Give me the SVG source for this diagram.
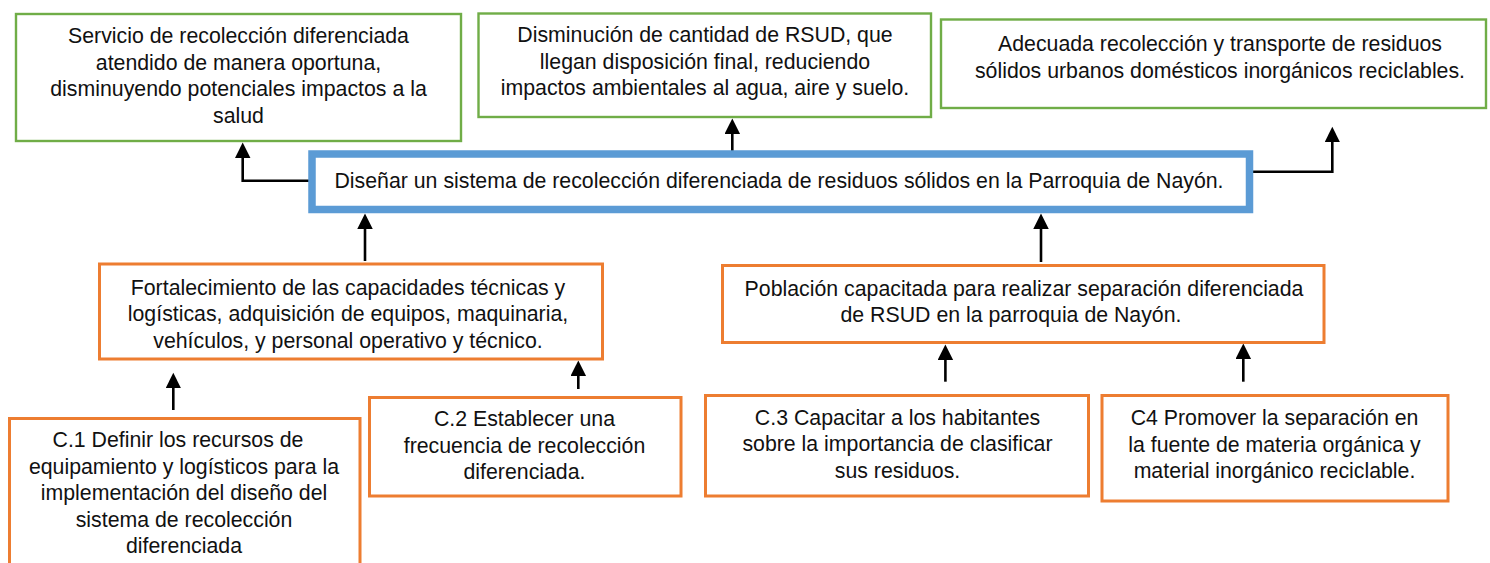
<svg xmlns="http://www.w3.org/2000/svg" width="1490" height="563" viewBox="0 0 1490 563">
<style>
.g{fill:#fff;stroke:#70ad47;stroke-width:2.4}
.o{fill:#fff;stroke:#ed7d31;stroke-width:3}
.b{fill:#fff;stroke:#5b9bd5;stroke-width:7.5}
text{font-family:"Liberation Sans",Arial,sans-serif;font-size:21.3px;fill:#111;text-anchor:middle}
.c{fill:none;stroke:#000;stroke-width:2.6;marker-end:url(#ah)}
</style>
<defs>
<marker id="ah" markerUnits="userSpaceOnUse" markerWidth="16" markerHeight="16" refX="12" refY="7.75" orient="auto">
<path d="M0,0 L15.5,7.75 L0,15.5 z" fill="#000"/>
</marker>
</defs>
<rect width="1490" height="563" fill="#fff"/>
<g id="connectors">
<path class="c" d="M309,180.7 H242.7 V146"/>
<path class="c" d="M732.3,151 V122"/>
<path class="c" d="M1252,171.7 H1332.3 V130.3"/>
<path class="c" d="M365,261 V217"/>
<path class="c" d="M1041,262 V217"/>
<path class="c" d="M173.3,410 V376.3"/>
<path class="c" d="M578.3,389 V364"/>
<path class="c" d="M945.4,381.7 V348"/>
<path class="c" d="M1243.3,381.7 V347"/>
</g>
<g id="n_servicio">
<rect class="g" x="16" y="14" width="445" height="127"/>
<text x="238.5" y="43">Servicio de recolección diferenciada</text>
<text x="238.5" y="69.5">atendido de manera oportuna,</text>
<text x="238.5" y="96">disminuyendo potenciales impactos a la</text>
<text x="238.5" y="122.5">salud</text>
</g>
<g id="n_disminucion">
<rect class="g" x="478.5" y="13.5" width="452.5" height="103.5"/>
<text x="705" y="42">Disminución de cantidad de RSUD, que</text>
<text x="705" y="68.5">llegan disposición final, reduciendo</text>
<text x="705" y="95">impactos ambientales al agua, aire y suelo.</text>
</g>
<g id="n_adecuada">
<rect class="g" x="941" y="19.5" width="545" height="88.5"/>
<text x="1220" y="51">Adecuada recolección y transporte de residuos</text>
<text x="1220" y="77.5">sólidos urbanos domésticos inorgánicos reciclables.</text>
</g>
<g id="n_objetivo">
<rect class="b" x="312" y="154" width="937.5" height="55.5"/>
<text x="779" y="187.5">Diseñar un sistema de recolección diferenciada de residuos sólidos en la Parroquia de Nayón.</text>
</g>
<g id="n_fortalecimiento">
<rect class="o" x="99.5" y="264" width="503" height="95"/>
<text x="348" y="294.5">Fortalecimiento de las capacidades técnicas y</text>
<text x="348" y="321">logísticas, adquisición de equipos, maquinaria,</text>
<text x="348" y="347.5">vehículos, y personal operativo y técnico.</text>
</g>
<g id="n_poblacion">
<rect class="o" x="722.5" y="265.5" width="601.5" height="77"/>
<text x="1024" y="296">Población capacitada para realizar separación diferenciada</text>
<text x="1011" y="322">de RSUD en la parroquia de Nayón.</text>
</g>
<g id="n_c1">
<rect class="o" x="9.5" y="418.5" width="350.5" height="160"/>
<text x="178" y="447">C.1 Definir los recursos de</text>
<text x="184" y="473.5">equipamiento y logísticos para la</text>
<text x="184" y="500">implementación del diseño del</text>
<text x="184" y="526.5">sistema de recolección</text>
<text x="184" y="553">diferenciada</text>
</g>
<g id="n_c2">
<rect class="o" x="369.5" y="397.5" width="311.5" height="98.5"/>
<text x="524.5" y="426">C.2 Establecer una</text>
<text x="524.5" y="452.5">frecuencia de recolección</text>
<text x="524.5" y="479">diferenciada.</text>
</g>
<g id="n_c3">
<rect class="o" x="705.5" y="395.5" width="383" height="100.5"/>
<text x="897.5" y="424.5">C.3 Capacitar a los habitantes</text>
<text x="897.5" y="451">sobre la importancia de clasificar</text>
<text x="897.5" y="477.5">sus residuos.</text>
</g>
<g id="n_c4">
<rect class="o" x="1102" y="395.5" width="346" height="105.5"/>
<text x="1274.5" y="425">C4 Promover la separación en</text>
<text x="1274.5" y="451.5">la fuente de materia orgánica y</text>
<text x="1274.5" y="478">material inorgánico reciclable.</text>
</g>
</svg>
